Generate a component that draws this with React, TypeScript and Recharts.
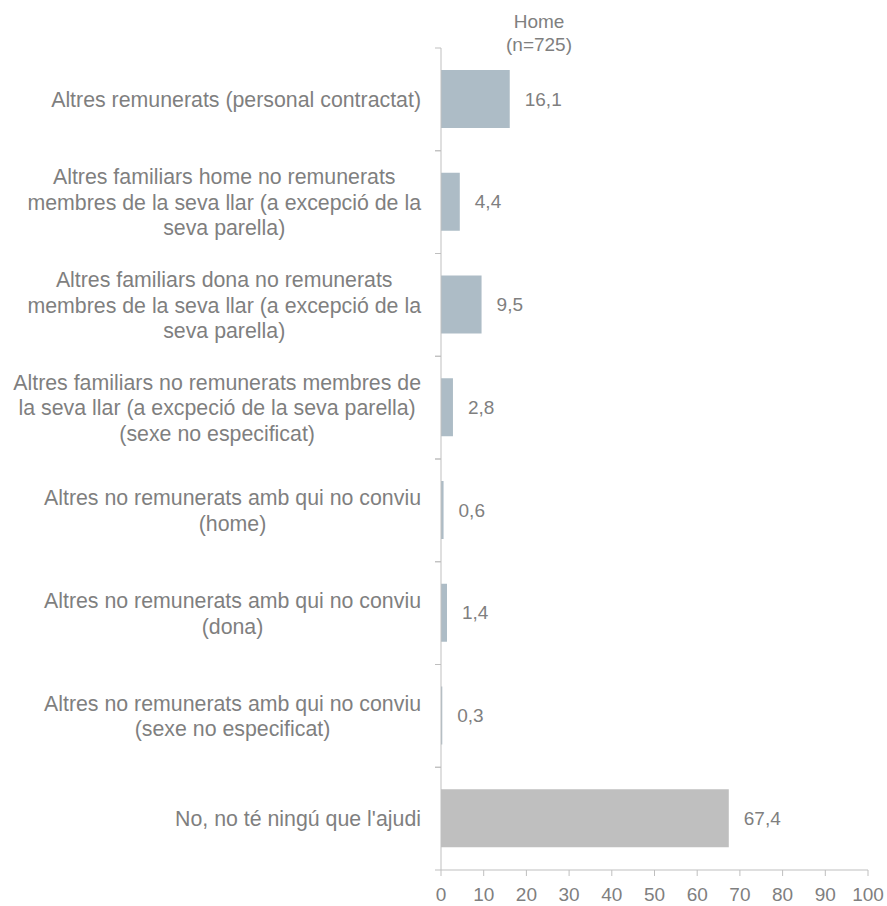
import { BarChart, Bar, XAxis, YAxis, Cell, LabelList } from "recharts";

const categories = [
  "Altres remunerats (personal contractat)",
  "Altres familiars home no remunerats\nmembres de la seva llar (a excepció de la\nseva parella)",
  "Altres familiars dona no remunerats\nmembres de la seva llar (a excepció de la\nseva parella)",
  "Altres familiars no remunerats membres de\nla seva llar (a excpeció de la seva parella)\n(sexe no especificat)",
  "Altres no remunerats amb qui no conviu\n(home)",
  "Altres no remunerats amb qui no conviu\n(dona)",
  "Altres no remunerats amb qui no conviu\n(sexe no especificat)",
  "No, no té ningú que l'ajudi",
];
const values = [16.1, 4.4, 9.5, 2.8, 0.6, 1.4, 0.3, 67.4];
const xTicks = [0, 10, 20, 30, 40, 50, 60, 70, 80, 90, 100];
const seriesTitle = ["Home", "(n=725)"];

const data = categories.map((name, i) => ({ name, value: values[i] }));

const W = 887;
const H = 906;
const MARGIN = { top: 48, right: 19, bottom: 0, left: 0 };
const Y_AXIS_W = 441;
const X_AXIS_H = 36;
const BAND = (H - MARGIN.top - MARGIN.bottom - X_AXIS_H) / categories.length;

const FONT = '"Liberation Sans", Arial, sans-serif';
const CAT_SIZE = 21.33;
const SMALL_SIZE = 19;
const TEXT = "#7f7f7f";
const AXIS = "#bfbfbf";
const BLUE = "#adbcc6";
const GREY = "#bfbfbf";

let ctx: CanvasRenderingContext2D | null = null;
function measure(s: string) {
  if (!ctx) ctx = document.createElement("canvas").getContext("2d");
  if (!ctx) return s.length * CAT_SIZE * 0.5;
  ctx.font = `${CAT_SIZE}px ${FONT}`;
  return ctx.measureText(s).width;
}

// multi-line category label: block right-aligned near the axis, lines centred in the block
function CategoryTick(props: any) {
  const { y, payload } = props;
  const lines: string[] = String(payload.value).split("\n");
  const axisX = Y_AXIS_W;
  const right = axisX - 20;
  const maxW = Math.max(...lines.map(measure));
  const cx = right - maxW / 2;
  const lh = 25.5;
  return (
    <g>
      <line x1={axisX - 6} x2={axisX} y1={y - BAND / 2} y2={y - BAND / 2} stroke={AXIS} />
      <line x1={axisX - 6} x2={axisX} y1={y + BAND / 2} y2={y + BAND / 2} stroke={AXIS} />
      <text textAnchor="middle" fill={TEXT} fontSize={CAT_SIZE} fontFamily={FONT}>
        {lines.map((l, i) => (
          <tspan key={i} x={cx} y={y + (i - (lines.length - 1) / 2) * lh} dy="0.36em">
            {l}
          </tspan>
        ))}
      </text>
    </g>
  );
}

export default function App() {
  return (
    <div style={{ position: "absolute", left: 0, top: 0, width: W, height: H, background: "#fff" }}>
      <div
        style={{
          position: "absolute",
          left: 539 - 60,
          top: 10,
          width: 120,
          textAlign: "center",
          fontFamily: FONT,
          fontSize: SMALL_SIZE,
          lineHeight: "23px",
          color: TEXT,
        }}
      >
        {seriesTitle.map((t) => (
          <div key={t}>{t}</div>
        ))}
      </div>
      <BarChart width={W} height={H} data={data} layout="vertical" margin={MARGIN} barSize={58}>
        <XAxis
          type="number"
          domain={[0, 100]}
          ticks={xTicks}
          height={X_AXIS_H}
          axisLine={{ stroke: AXIS }}
          tickLine={{ stroke: AXIS }}
          tickSize={6}
          tickMargin={12}
          tick={{ fill: TEXT, fontSize: SMALL_SIZE, fontFamily: FONT }}
          interval={0}
        />
        <YAxis
          type="category"
          dataKey="name"
          width={Y_AXIS_W}
          axisLine={{ stroke: AXIS }}
          tickLine={false}
          tick={<CategoryTick />}
          interval={0}
        />
        <Bar dataKey="value" isAnimationActive={false}>
          {data.map((d, i) => (
            <Cell key={d.name} fill={i === data.length - 1 ? GREY : BLUE} />
          ))}
          <LabelList
            dataKey="value"
            position="right"
            offset={15}
            fill={TEXT}
            fontSize={SMALL_SIZE}
            fontFamily={FONT}
            formatter={(v: any) => String(v).replace(".", ",")}
          />
        </Bar>
      </BarChart>
    </div>
  );
}
